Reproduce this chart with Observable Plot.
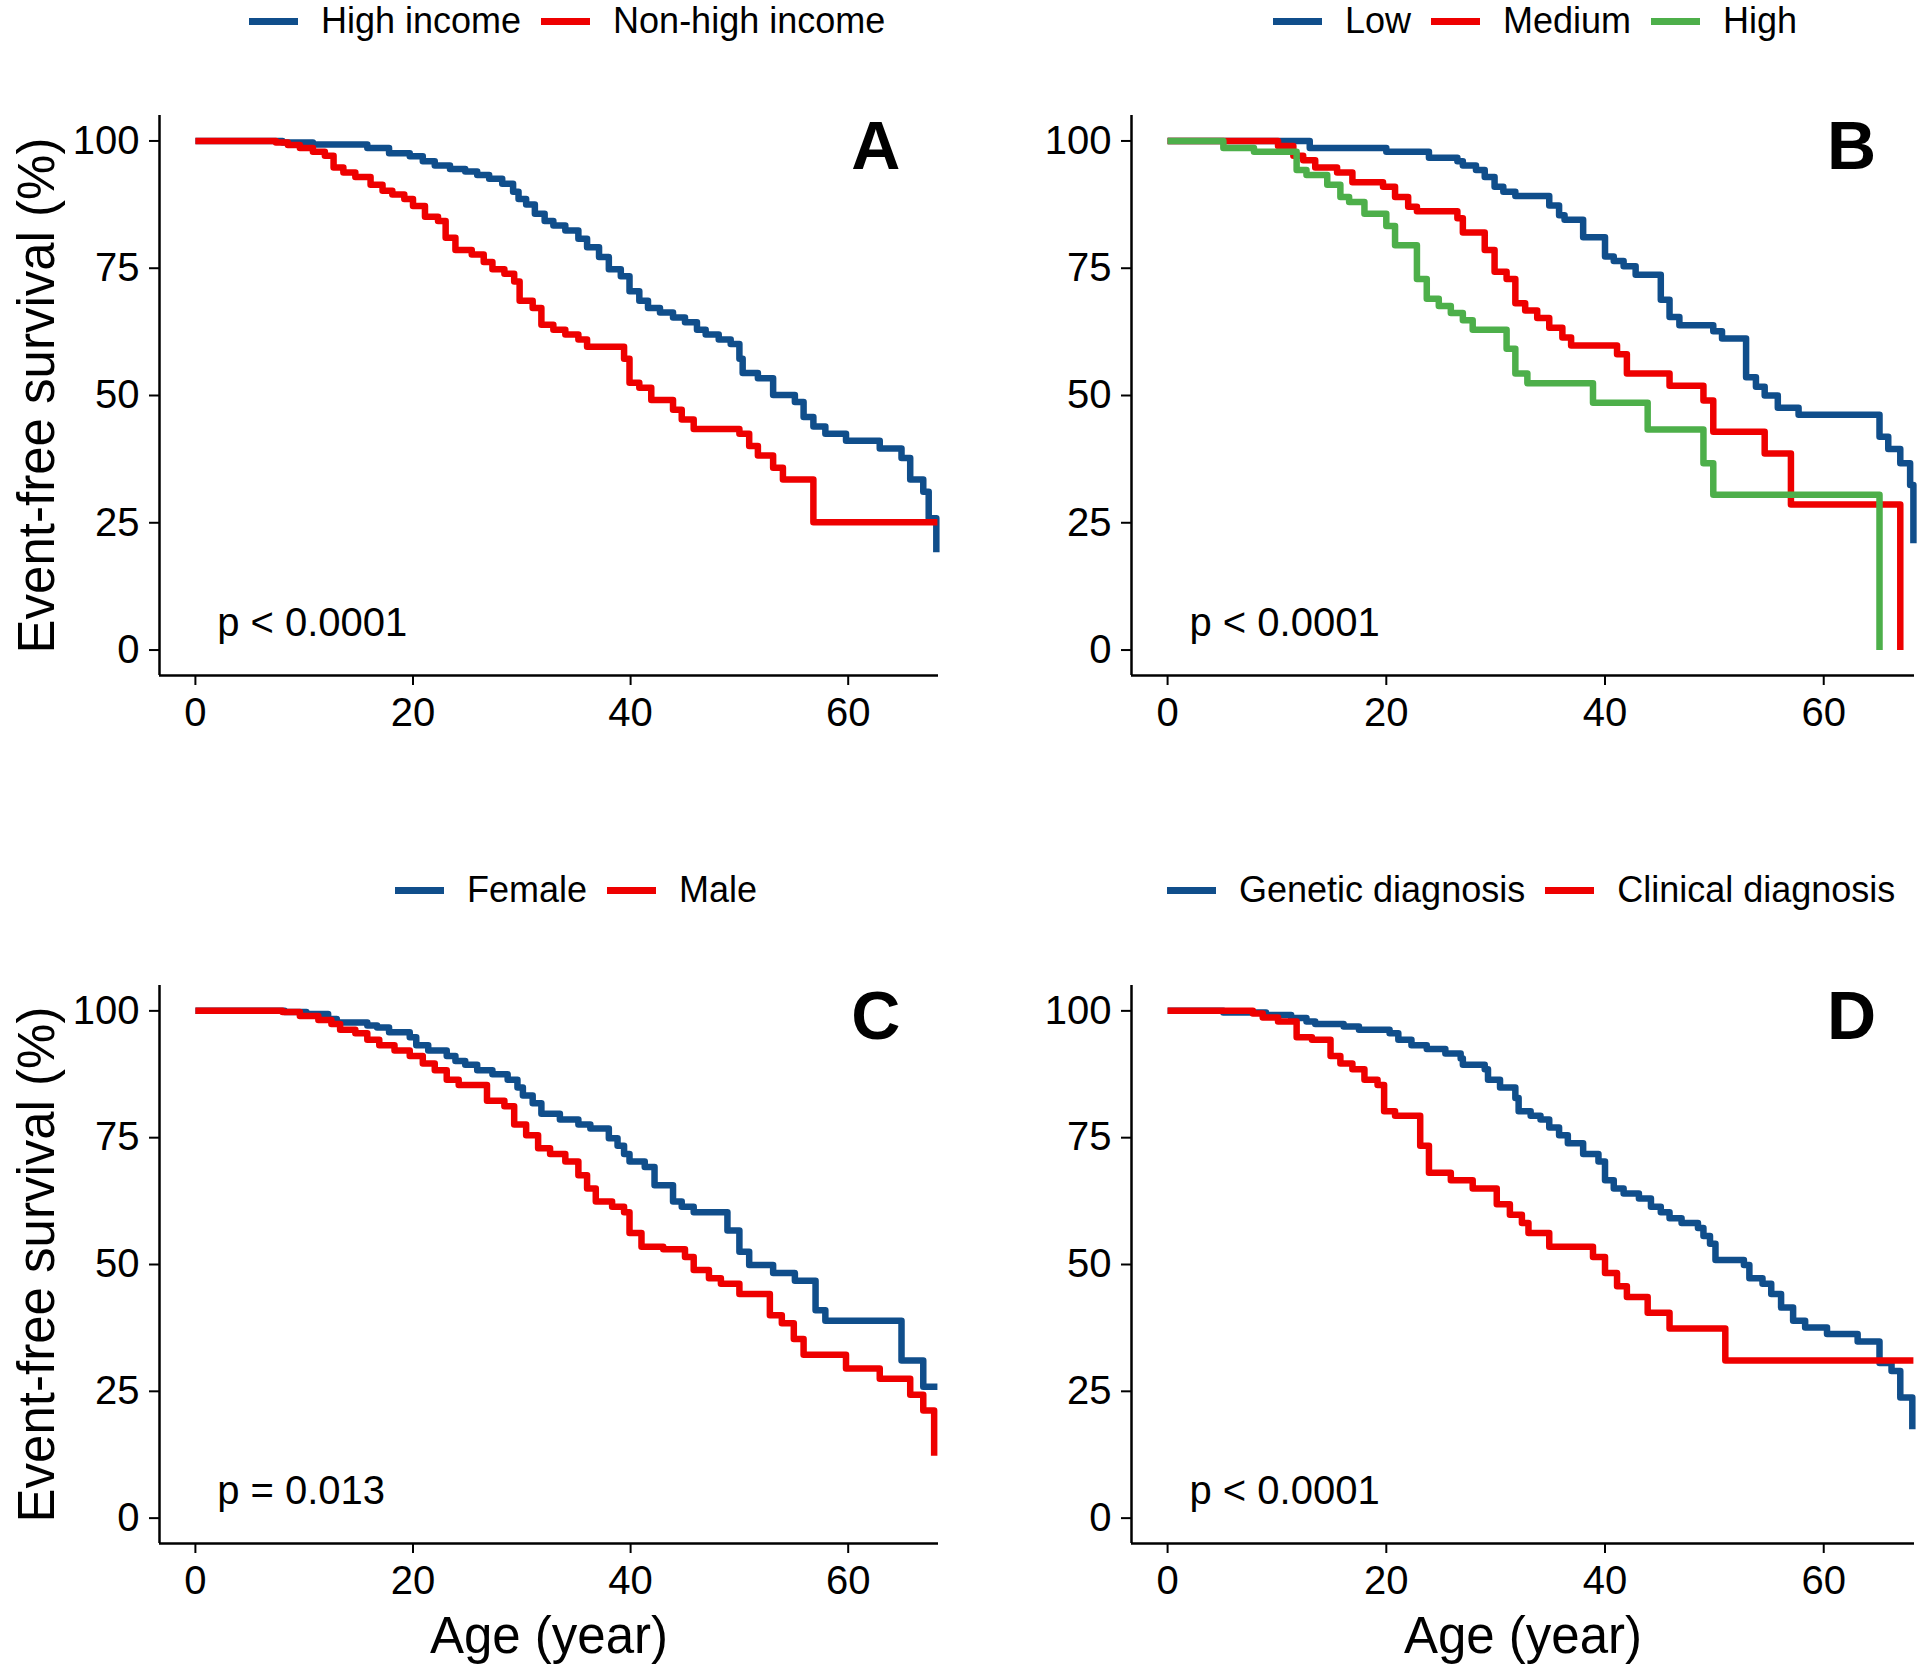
<!DOCTYPE html>
<html>
<head>
<meta charset="utf-8">
<script src="https://cdn.jsdelivr.net/npm/d3@7"></script>
<script src="https://cdn.jsdelivr.net/npm/@observablehq/plot@0.6"></script>
<style>
  body { margin: 0; background: #fff; }
  #root { position: relative; width: 1920px; height: 1674px; background: #fff; overflow: hidden;
          font-family: 'Liberation Sans', Arial, Helvetica, sans-serif; color: #000; }
  .panel { position: absolute; }
  .legend { position: absolute; display: flex; align-items: center; height: 42px; font-size: 36px;
            line-height: 42px; white-space: nowrap; color: #000; }
  .legend .item { display: flex; align-items: center; margin-right: 20px; }
  .legend .sw { display: inline-block; width: 49px; height: 7px; margin-right: 23px; }
</style>
</head>
<body>
<div id="root"></div>
<script>
// ---------- data ----------
const COLORS = { blue: "#104E8B", red: "#EE0000", green: "#4DAF4A" };

const xTicks = [0, 20, 40, 60];
const yTicks = [0, 25, 50, 75, 100];
const xDomain = [-3.3, 68.3];
const yDomain = [-5, 105];

// Panel A: income
const legendA = ["High income", "Non-high income"];
const ageA_high = [0, 8, 10.8, 15.8, 17.8, 19.7, 20.9, 22, 23.4, 24.8, 25.9, 27, 28.2, 29.2, 29.7, 30.4, 31.2, 32.1, 32.9, 34, 35.2, 36, 37.1, 38, 39.1, 39.9, 40.8, 41.6, 42.7, 43.9, 45, 46.1, 46.9, 48.1, 49.2, 50, 50.3, 51.7, 53.1, 55.1, 55.9, 56.8, 57.9, 59.8, 62.9, 64.9, 65.7, 66.9, 67.4, 68.1];
const survA_high = [100, 99.7, 99.3, 98.6, 97.6, 97, 96, 95.2, 94.5, 94, 93.3, 92.6, 91.6, 90, 88.6, 87.5, 85.7, 84.3, 83.4, 82.4, 80.8, 79.1, 77.2, 74.8, 73.4, 70.5, 68.6, 67.2, 66.3, 65.3, 64.4, 62.9, 62, 61, 60.1, 57.2, 54.4, 53.4, 50.1, 48.7, 45.8, 43.9, 42.5, 41.1, 39.6, 37.7, 33.5, 31.1, 25.9, 19.2];
const ageA_non = [0, 7.4, 8.5, 9.6, 10.8, 11.9, 12.7, 13.6, 14.7, 16.1, 17.2, 18.1, 19.2, 20, 21.1, 22.3, 23, 23.9, 25.4, 26.5, 27.3, 28.4, 29.3, 29.8, 31, 31.8, 32.9, 34, 35.2, 36, 39.4, 39.9, 40.8, 41.9, 43.9, 44.7, 45.8, 50, 50.9, 51.7, 53.1, 54, 56.8, 68.2];
const survA_non = [100, 99.7, 99.2, 98.6, 97.9, 97.1, 94.8, 93.8, 92.9, 91.4, 90.2, 89.5, 88.6, 87.2, 85.1, 84.3, 81, 78.6, 77.7, 76.2, 74.8, 73.9, 72.4, 68.6, 67.2, 63.9, 62.9, 62, 61, 59.6, 57.2, 52.5, 51.5, 49.1, 47.2, 45.3, 43.4, 42.5, 40.1, 38.2, 35.8, 33.5, 25.1, 25.1];

// Panel B: Low / Medium / High
const legendB = ["Low", "Medium", "High"];
const ageB_low = [0, 13, 20, 23.9, 26.5, 27, 28.2, 29, 29.9, 30.7, 31.8, 34.9, 35.8, 36.3, 38, 40, 40.8, 41.7, 42.8, 45.1, 45.9, 46.8, 49.9, 50.7, 52.9, 53.8, 54.6, 55.8, 57.7, 65.1, 65.9, 67, 67.9, 68.2];
const survB_low = [100, 98.6, 97.9, 96.7, 96, 95.2, 94.3, 92.9, 91, 90, 89.2, 87.3, 85.4, 84.5, 81.1, 77.3, 76.4, 75.4, 73.7, 68.8, 65.4, 63.8, 62.6, 61.2, 53.6, 51.7, 50, 47.6, 46.2, 41.9, 39.5, 36.7, 32.4, 21];
const ageB_med = [0, 10.1, 11.5, 12.4, 13.5, 15.5, 16.9, 19.7, 20.8, 22, 22.8, 26.5, 27, 29, 29.9, 31, 31.8, 32.7, 33.8, 34.9, 36.1, 36.9, 41.1, 42, 45.9, 49, 49.9, 54.6, 57, 67];
const survB_med = [100, 99, 97.1, 96.2, 94.8, 93.8, 91.9, 91, 89, 87.1, 86.2, 84.8, 82, 78.6, 74.3, 72.9, 68.1, 66.7, 65.2, 63.3, 61.4, 59.8, 58.1, 54.3, 51.9, 49, 42.9, 38.6, 28.6, 0];
const ageB_high = [0, 5.1, 7.9, 11.8, 12.7, 14.6, 15.8, 16.6, 18, 20, 20.8, 22.8, 23.7, 24.8, 25.9, 27, 27.9, 31, 31.8, 32.9, 38.9, 43.9, 49, 49.9, 65.1];
const survB_high = [100, 98.6, 97.9, 94.3, 93.3, 91.4, 89, 88, 85.7, 83.3, 79.5, 72.9, 69, 67.6, 66.2, 64.8, 62.9, 59.2, 54.3, 52.4, 48.6, 43.3, 36.7, 30.5, 0];

// Panel C: sex
const legendC = ["Female", "Male"];
const ageC_f = [0, 8.2, 10.2, 12.2, 13, 15.8, 16.7, 17.8, 19.7, 20.3, 21.4, 23.1, 23.9, 24.8, 25.9, 27.3, 28.7, 29.6, 30.1, 31, 31.8, 33.5, 35.2, 36.3, 38, 38.8, 39.4, 39.9, 41.3, 42.2, 43.9, 44.7, 45.8, 48.9, 50, 50.9, 53.1, 55.1, 57, 57.9, 64.9, 66.9, 68.2];
const survC_f = [100, 99.8, 99.4, 98.4, 97.7, 97.1, 96.7, 95.8, 94.8, 93.2, 92.2, 91.1, 90.1, 89.4, 88.3, 87.5, 86.4, 84.9, 83.3, 81.8, 79.7, 78.6, 77.6, 76.8, 74.9, 73.4, 71.8, 70.3, 69.2, 65.6, 62.4, 61.4, 60.3, 56.7, 52.5, 49.9, 48.3, 46.8, 41, 38.9, 31.1, 25.9, 25.9];
const ageC_m = [0, 8, 9.6, 11.3, 12.5, 13.3, 14.7, 15.8, 16.9, 18.3, 19.7, 20.9, 22, 23.1, 24.2, 26.8, 28.4, 29.3, 30.4, 31.5, 32.6, 34, 35.2, 36, 36.8, 38.3, 39.4, 39.9, 41, 43, 45, 45.8, 47.2, 48.3, 50, 52.8, 53.9, 55, 55.9, 59.8, 62.9, 65.7, 66.9, 67.9];
const survC_m = [100, 99.8, 99, 98.2, 97.4, 96.3, 95.6, 94.3, 93.2, 92.2, 91.1, 89.6, 88.3, 86.4, 85.4, 82.3, 81.2, 77.6, 75.5, 72.9, 71.8, 70.3, 67.6, 65, 62.4, 61.4, 60.3, 56.2, 53.5, 53, 51.5, 48.9, 47.3, 46.2, 44.2, 40, 38.4, 35.3, 32.2, 29.5, 27.5, 24.3, 21.2, 12.3];

// Panel D: diagnosis
const legendD = ["Genetic diagnosis", "Clinical diagnosis"];
const ageD_g = [0, 5.1, 9, 11.3, 12.7, 13.5, 16.1, 17.5, 20.3, 21.1, 22.3, 23.7, 25.4, 26.8, 27, 29, 29.3, 30.4, 31.8, 32.1, 33.2, 34.1, 34.9, 35.8, 36.6, 38, 39.4, 40, 40.8, 41.7, 43.1, 44.2, 45.1, 45.9, 47, 48.5, 49, 49.6, 50.1, 52.7, 53.2, 54.4, 55.2, 56.1, 57.2, 58.3, 60.3, 63.1, 65.1, 66.2, 67, 68.1];
const survD_g = [100, 99.7, 99.2, 98.6, 97.9, 97.4, 96.9, 96.3, 95.6, 94.3, 93.2, 92.5, 91.6, 90.6, 89.4, 88.5, 86.4, 84.9, 82.8, 80.2, 79.3, 78.6, 77, 75.5, 73.9, 71.8, 70.3, 66.6, 65, 64, 63, 61.4, 60.3, 59.1, 58.2, 57.2, 55.6, 54.1, 50.9, 49.9, 47.3, 46.2, 44.2, 41.5, 38.9, 37.6, 36.3, 34.8, 30.6, 29, 23.8, 17.5];
const ageD_c = [0, 7.8, 8.7, 10.1, 11.8, 13.2, 14.9, 15.8, 16.9, 18, 19.2, 19.8, 20.8, 23.1, 23.9, 25.9, 27.9, 30.1, 31.3, 32.4, 33, 34.9, 38.9, 40, 41.1, 42, 43.9, 45.9, 51, 68.2];
const survD_c = [100, 99.5, 98.7, 97.9, 94.8, 94.3, 91.1, 89.6, 88.5, 86.4, 85.4, 80.2, 79.3, 73.4, 68.1, 66.6, 65, 61.9, 59.8, 58.2, 56.2, 53.5, 51.5, 48.3, 45.7, 43.6, 40.5, 37.4, 31.1, 31.1];

const pValues = ["p < 0.0001", "p < 0.0001", "p = 0.013", "p < 0.0001"];
const letters = ["A", "B", "C", "D"];
const yTitle = "Event-free survival (%)";
const xTitle = "Age (year)";

// ---------- drawing ----------
const FONT = "'Liberation Sans', Arial, Helvetica, sans-serif";
const root = document.getElementById("root");

function rows(age, surv) {
  return age.map((a, i) => ({ age: a, surv: surv[i] }));
}

function panel(cfg) {
  const marks = [
    Plot.ruleX([xDomain[0]], { stroke: "#000", strokeWidth: 2.5 }),
    Plot.ruleY([yDomain[0]], { stroke: "#000", strokeWidth: 2.5 }),
    Plot.axisX({ ticks: xTicks, tickSize: 10, tickPadding: 12, strokeWidth: 2, label: null, fontSize: 40 }),
    Plot.axisY({ ticks: yTicks, tickSize: 10, tickPadding: 10, strokeWidth: 2, label: null, fontSize: 40 })
  ];
  for (const s of cfg.series) {
    marks.push(Plot.line(rows(s.age, s.surv), {
      x: "age", y: "surv", curve: "step-after", stroke: s.color,
      strokeWidth: 6.5, strokeLinejoin: "round", strokeLinecap: "butt"
    }));
  }
  marks.push(Plot.text([cfg.pval], { x: 2, y: 5.3, text: d => d, textAnchor: "start", lineAnchor: "middle", fontSize: 40 }));
  marks.push(Plot.text([cfg.letter], { x: 64.8, y: 98.8, text: d => d, textAnchor: "end", lineAnchor: "middle", fontSize: 68, fontWeight: "bold" }));
  if (cfg.yTitle) {
    marks.push(Plot.text([cfg.yTitle], { frameAnchor: "left", rotate: -90, dx: cfg.yTitleDx, text: d => d, textAnchor: "middle", lineAnchor: "middle", fontSize: 51 }));
  }
  if (cfg.xTitle) {
    marks.push(Plot.text([cfg.xTitle], { frameAnchor: "bottom", dy: 93, text: d => d, textAnchor: "middle", lineAnchor: "middle", fontSize: 51 }));
  }
  const svg = Plot.plot({
    width: cfg.width, height: cfg.height,
    marginLeft: cfg.mL, marginRight: cfg.mR, marginTop: cfg.mT, marginBottom: cfg.mB,
    x: { domain: xDomain },
    y: { domain: yDomain },
    style: { fontFamily: FONT, fontSize: "40px", color: "#000", background: "transparent", overflow: "visible" },
    marks
  });
  svg.classList.add("panel");
  svg.style.left = cfg.left + "px";
  svg.style.top = cfg.top + "px";
  svg.style.position = "absolute";
  root.appendChild(svg);
}

function legend(labels, colors, left, top) {
  const div = document.createElement("div");
  div.className = "legend";
  div.style.left = left + "px";
  div.style.top = top + "px";
  labels.forEach((lab, i) => {
    const item = document.createElement("div");
    item.className = "item";
    const sw = document.createElement("span");
    sw.className = "sw";
    sw.style.background = colors[i];
    const tx = document.createElement("span");
    tx.textContent = lab;
    item.appendChild(sw);
    item.appendChild(tx);
    div.appendChild(item);
  });
  root.appendChild(div);
}

panel({
  left: 0, top: 60, width: 960, height: 700, mL: 159, mR: 22, mT: 55, mB: 85,
  series: [
    { age: ageA_high, surv: survA_high, color: COLORS.blue },
    { age: ageA_non, surv: survA_non, color: COLORS.red }
  ],
  pval: pValues[0], letter: letters[0], yTitle: yTitle, yTitleDx: -122
});
panel({
  left: 960, top: 60, width: 960, height: 700, mL: 171, mR: 6, mT: 55, mB: 85,
  series: [
    { age: ageB_low, surv: survB_low, color: COLORS.blue },
    { age: ageB_med, surv: survB_med, color: COLORS.red },
    { age: ageB_high, surv: survB_high, color: COLORS.green }
  ],
  pval: pValues[1], letter: letters[1]
});
panel({
  left: 0, top: 930, width: 960, height: 744, mL: 159, mR: 22, mT: 55, mB: 131,
  series: [
    { age: ageC_f, surv: survC_f, color: COLORS.blue },
    { age: ageC_m, surv: survC_m, color: COLORS.red }
  ],
  pval: pValues[2], letter: letters[2], yTitle: yTitle, yTitleDx: -122, xTitle: xTitle
});
panel({
  left: 960, top: 930, width: 960, height: 744, mL: 171, mR: 6, mT: 55, mB: 131,
  series: [
    { age: ageD_g, surv: survD_g, color: COLORS.blue },
    { age: ageD_c, surv: survD_c, color: COLORS.red }
  ],
  pval: pValues[3], letter: letters[3], xTitle: xTitle
});

legend(legendA, [COLORS.blue, COLORS.red], 249, 0);
legend(legendB, [COLORS.blue, COLORS.red, COLORS.green], 1273, 0);
legend(legendC, [COLORS.blue, COLORS.red], 395, 869);
legend(legendD, [COLORS.blue, COLORS.red], 1167, 869);
</script>
</body>
</html>
